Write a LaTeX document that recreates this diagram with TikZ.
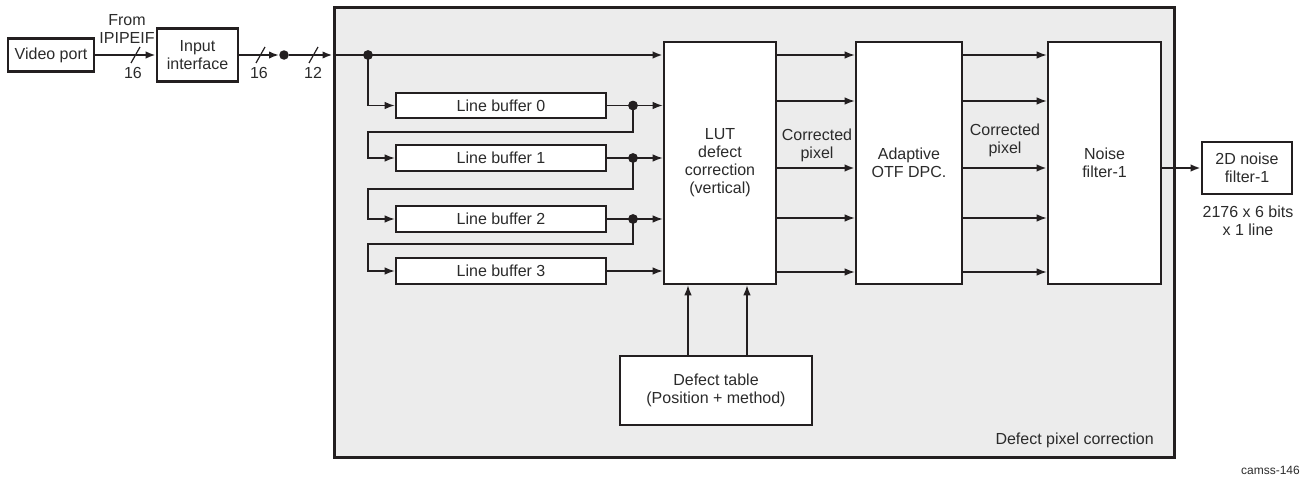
\documentclass[tikz,border=0pt]{standalone}
\usepackage{fontspec}
\setmainfont{Liberation Sans}
\usetikzlibrary{arrows.meta,calc}
\definecolor{ink}{HTML}{231F20}
\definecolor{txt}{HTML}{2B2B2B}
\definecolor{bg}{HTML}{ECECEC}
\begin{document}
\begin{tikzpicture}[x=1pt,y=-1pt,
  box/.style={draw=ink,line width=2.6pt,fill=white,inner sep=0pt,outer sep=1.3pt,align=center,text=txt,font=\fontsize{16}{18}\selectfont},
  bigbox/.style={draw=ink,line width=3pt,fill=bg,inner sep=0pt,outer sep=1.5pt},
  mainline/.style={draw=ink,line width=2.2pt},
  thinline/.style={draw=ink,line width=1.3pt},
  arr/.style={-{Latex[length=10pt,width=7.5pt]}},
  jdot/.style={circle,fill=ink,inner sep=0pt,minimum size=9.5pt},
  lbl/.style={text=txt,font=\fontsize{16}{18}\selectfont,align=center,inner sep=0pt},
  slashmark/.style={draw=ink,line width=1.2pt}
]
\useasboundingbox (0,0) rectangle (1302,479);

% containers and boxes
\node[bigbox,minimum width=840pt,minimum height=450pt] (dpc) at (754,232) {};
\node[box,minimum width=86pt,minimum height=33pt] (vp) at (51,55) {Video port};
\node[box,minimum width=81pt,minimum height=53pt] (ii) at (197.5,55) {Input\\interface};
\node[box,minimum width=210pt,minimum height=25pt] (lb0) at (501,105.5) {Line buffer 0};
\node[box,minimum width=210pt,minimum height=26pt] (lb1) at (501,158) {Line buffer 1};
\node[box,minimum width=210pt,minimum height=26pt] (lb2) at (501,219) {Line buffer 2};
\node[box,minimum width=210pt,minimum height=26pt] (lb3) at (501,271) {Line buffer 3};
\node[box,minimum width=112pt,minimum height=242pt] (lut) at (720,163) {LUT\\defect\\correction\\(vertical)};
\node[box,minimum width=106pt,minimum height=242pt] (otf) at (909,163) {Adaptive\\OTF DPC.};
\node[box,minimum width=113pt,minimum height=242pt] (nf) at (1104.5,163) {Noise\\filter-1};
\node[box,minimum width=90pt,minimum height=52pt] (nf2) at (1247,168) {2D noise\\filter-1};
\node[box,minimum width=192pt,minimum height=69pt] (dt) at (716,390.5) {Defect table\\(Position + method)};

% junction dots
\node[jdot] (j1) at (284,55) {};
\node[jdot] (j2) at (368,55) {};
\node[jdot] (j3) at (633,105.5) {};
\node[jdot] (j4) at (633,158) {};
\node[jdot] (j5) at (633,219) {};

% input path
\draw[mainline,arr] (vp.east) -- (ii.west);
\draw[mainline,arr] (ii.east) -- (j1.west);
\draw[mainline,arr] (j1) -- (j1 -| dpc.west);
\draw[mainline,arr] (j1 -| dpc.west) -- (j1 -| lut.west);

% bus slashes and widths
\draw[slashmark] (131,63) -- (140,47);
\draw[slashmark] (256,63) -- (265,47);
\draw[slashmark] (309,63) -- (318,47);
\node[lbl] (fromlbl) at (127,29) {From\\IPIPEIF};
\node[lbl] (w1) at (133,73) {16};
\node[lbl] (w2) at (259,73) {16};
\node[lbl] (w3) at (313,73) {12};

% line buffer chain
\draw[thinline,arr] (j2.center) |- (lb0.west);
\draw[thinline,arr] (lb0.east) -- (lb0.east -| lut.west);
\draw[thinline,arr] (j3.center) |- (368,132) |- (lb1.west);
\draw[thinline,arr] (lb1.east) -- (lb1.east -| lut.west);
\draw[thinline,arr] (j4.center) |- (368,189) |- (lb2.west);
\draw[thinline,arr] (lb2.east) -- (lb2.east -| lut.west);
\draw[thinline,arr] (j5.center) |- (368,244) |- (lb3.west);
\draw[thinline,arr] (lb3.east) -- (lb3.east -| lut.west);
\node[jdot] at (j2) {};
\node[jdot] at (j3) {};
\node[jdot] at (j4) {};
\node[jdot] at (j5) {};

% corrected pixel buses
\foreach \yy in {55,101,218,272}{
  \coordinate (r) at (0,\yy);
  \draw[thinline,arr] (r -| lut.east) -- (r -| otf.west);
  \draw[thinline,arr] (r -| otf.east) -- (r -| nf.west);
}
\coordinate (mid) at (0,168);
\draw[mainline,arr] (mid -| lut.east) -- (mid -| otf.west);
\draw[mainline,arr] (mid -| otf.east) -- (mid -| nf.west);
\draw[mainline,arr] (mid -| nf.east) -- (nf2.west);
\node[lbl] (cp1) at (817,145) {Corrected\\pixel};
\node[lbl] (cp2) at (1005,140.5) {Corrected\\pixel};

% defect table feeds
\coordinate (ca) at (688,0);
\coordinate (cb) at (747,0);
\draw[thinline,arr] (dt.north -| ca) -- (lut.south -| ca);
\draw[thinline,arr] (dt.north -| cb) -- (lut.south -| cb);

% captions
\node[lbl] (mem) at (1248,220.5) {2176 x 6 bits\\x 1 line};
\node[lbl,anchor=east] (dpclbl) at (1154,440) {Defect pixel correction};
\node[lbl,anchor=east,font=\fontsize{12}{14}\selectfont] (fig) at (1300,470) {camss-146};
\end{tikzpicture}
\end{document}
